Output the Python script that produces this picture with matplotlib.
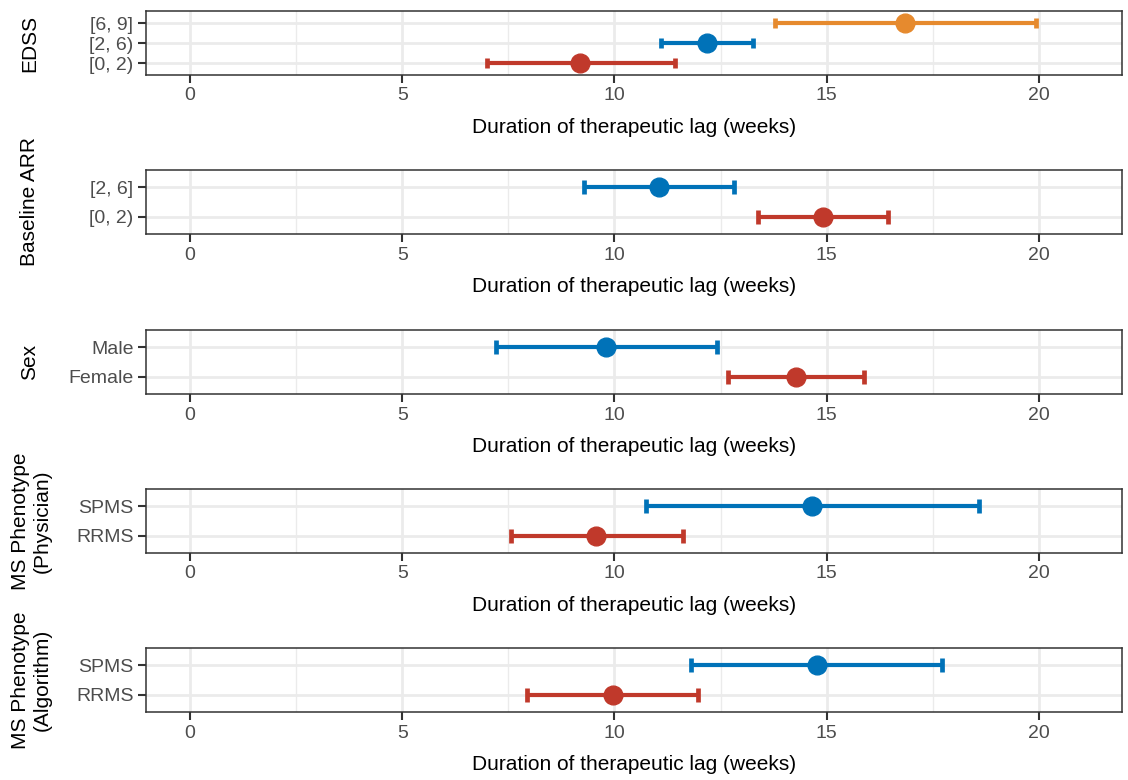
import matplotlib
matplotlib.use("Agg")
import matplotlib.pyplot as plt
import numpy as np

plt.rcParams['font.family'] = ['Liberation Sans', 'DejaVu Sans']

RED = '#C0392B'
BLUE = '#0072B8'
ORANGE = '#E68A2E'

# one list per panel, ordered bottom -> top
panel_titles = ['EDSS', 'Baseline ARR', 'Sex',
                'MS Phenotype\n(Physician)', 'MS Phenotype\n(Algorithm)']

edss_levels = ['[0, 2)', '[2, 6)', '[6, 9]']
edss_est = [9.19, 12.18, 16.84]
edss_lo = [7.00, 11.10, 13.78]
edss_hi = [11.43, 13.26, 19.93]

arr_levels = ['[0, 2)', '[2, 6]']
arr_est = [14.91, 11.05]
arr_lo = [13.38, 9.28]
arr_hi = [16.44, 12.82]

sex_levels = ['Female', 'Male']
sex_est = [14.28, 9.80]
sex_lo = [12.67, 7.21]
sex_hi = [15.88, 12.41]

phys_levels = ['RRMS', 'SPMS']
phys_est = [9.56, 14.65]
phys_lo = [7.56, 10.74]
phys_hi = [11.61, 18.59]

algo_levels = ['RRMS', 'SPMS']
algo_est = [9.96, 14.77]
algo_lo = [7.94, 11.80]
algo_hi = [11.97, 17.72]

panels = [
    (edss_levels, edss_est, edss_lo, edss_hi),
    (arr_levels, arr_est, arr_lo, arr_hi),
    (sex_levels, sex_est, sex_lo, sex_hi),
    (phys_levels, phys_est, phys_lo, phys_hi),
    (algo_levels, algo_est, algo_lo, algo_hi),
]
colours = [RED, BLUE, ORANGE]

W, H = 1128, 780
fig = plt.figure(figsize=(W / 100, H / 100), dpi=100)
left_px, right_px = 146, 1122
panel_h = 64
bottoms_px = [75, 234, 394, 553, 712]
label_right_px = [39, 39, 39, 52, 52]

for i, (levels, est, lo, hi) in enumerate(panels):
    ax = fig.add_axes([left_px / W, 1 - bottoms_px[i] / H,
                       (right_px - left_px) / W, panel_h / H])
    y = np.arange(1, len(levels) + 1)
    # cap width follows the category spacing, as ggplot's width does
    cap = 5.0 * (2.2 / (len(levels) + 0.2))
    for j in range(len(levels)):
        c = colours[j]
        ax.errorbar(est[j], y[j], xerr=[[est[j] - lo[j]], [hi[j] - est[j]]],
                    fmt='o', color=c, ms=13.5, elinewidth=3.0, capsize=cap,
                    capthick=3.4, zorder=3)
    ax.set_xlim(-1.04, 21.96)
    ax.set_ylim(0.4, len(levels) + 0.6)
    ax.set_yticks(y)
    ax.set_yticklabels(levels)
    ax.set_xticks([0, 5, 10, 15, 20])
    ax.set_xticks([2.5, 7.5, 12.5, 17.5], minor=True)
    ax.grid(True, which='major', color='#EBEBEB', lw=2.0, zorder=0)
    ax.grid(True, which='minor', axis='x', color='#EBEBEB', lw=1.0, zorder=0)
    ax.set_axisbelow(True)
    ax.tick_params(axis='both', which='major', length=5.5, width=1.5, color='#333333',
                   labelsize=14, labelcolor='#4D4D4D', pad=3.5)
    ax.tick_params(axis='x', which='minor', length=0)
    for s in ax.spines.values():
        s.set_color('#333333')
        s.set_linewidth(1.1)
    ax.set_xlabel('Duration of therapeutic lag (weeks)', fontsize=15, labelpad=10)
    ax.set_ylabel(panel_titles[i], fontsize=15, linespacing=1.2)
    ax.yaxis.set_label_coords((label_right_px[i] - left_px) / (right_px - left_px), 0.5)

fig.savefig('out.png', dpi=100)
